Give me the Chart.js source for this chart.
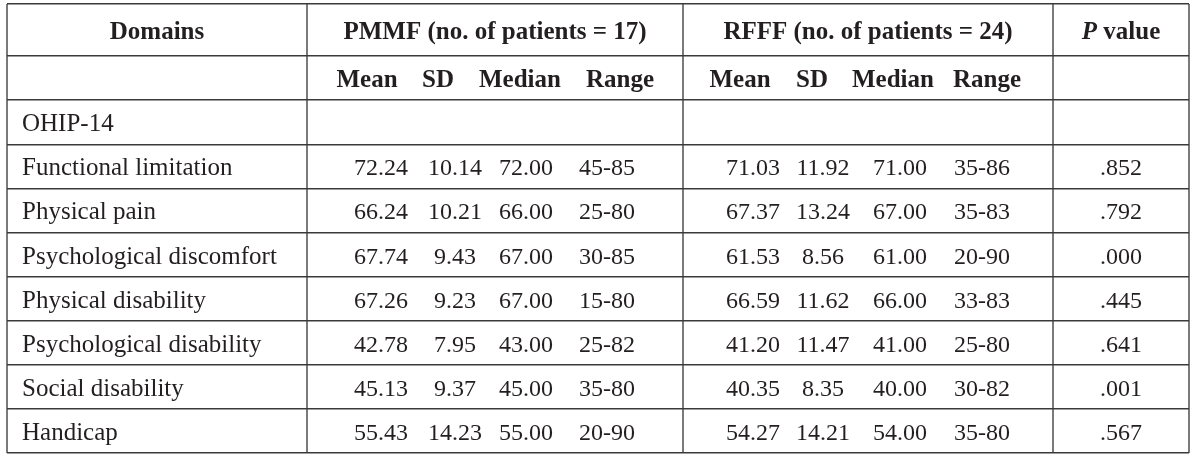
<!DOCTYPE html>
<html>
<head>
<meta charset="utf-8">
<script src="https://cdn.jsdelivr.net/npm/chart.js@4.4.1/dist/chart.umd.min.js"></script>
<style>
  html, body { margin: 0; padding: 0; background: #fff; }
  #wrap { width: 1200px; height: 463px; }
</style>
</head>
<body>
<div id="wrap"><canvas id="tabla"></canvas></div>
<script>
// datos de la tabla
const dominios = ["Functional limitation", "Physical pain", "Psychological discomfort",
  "Physical disability", "Psychological disability", "Social disability", "Handicap"];
const pmmfMedia = [72.24, 66.24, 67.74, 67.26, 42.78, 45.13, 55.43];
const pmmfDE = [10.14, 10.21, 9.43, 9.23, 7.95, 9.37, 14.23];
const pmmfMediana = [72.0, 66.0, 67.0, 67.0, 43.0, 45.0, 55.0];
const pmmfRango = ["45-85", "25-80", "30-85", "15-80", "25-82", "35-80", "20-90"];
const rfffMedia = [71.03, 67.37, 61.53, 66.59, 41.2, 40.35, 54.27];
const rfffDE = [11.92, 13.24, 8.56, 11.62, 11.47, 8.35, 14.21];
const rfffMediana = [71.0, 67.0, 61.0, 66.0, 41.0, 40.0, 54.0];
const rfffRango = ["35-86", "35-83", "20-90", "33-83", "25-80", "30-82", "35-80"];
const valoresP = [".852", ".792", ".000", ".445", ".641", ".001", ".567"];

const encabezados = ["Domains", "PMMF (no. of patients = 17)", "RFFF (no. of patients = 24)", "P value"];
const subEncabezados = ["Mean", "SD", "Median", "Range"];
const grupo = "OHIP-14";

// disposicion (unidades de la tabla)
const bordesCol = [7, 307, 683, 1053, 1189];
const centrosPMMF = [381, 455, 526, 607];
const centrosRFFF = [753, 823, 900, 982];
const centrosSubPMMF = [367, 438, 520, 620];
const centrosSubRFFF = [740, 812, 893, 987];
const altoEncabezado = 1.18;
const nFilas = 2 + dominios.length; // subencabezado, OHIP-14 y dominios
const bordesFila = [0];
for (let i = 0; i <= nFilas; i++) bordesFila.push(altoEncabezado + i);
const centroFila = (i) => (bordesFila[i] + bordesFila[i + 1]) / 2;

const fuenteEtiqueta = "25px 'Liberation Serif'";
const fuenteNumero = "24px 'Liberation Serif'";
const fuenteNegrita = "bold 25px 'Liberation Serif'";

// celdas como puntos de un scatter
function celda(x, y, texto, fuente, alinear) {
  return { x: x, y: y, texto: texto, fuente: fuente, alinear: alinear || "center" };
}

const celdas = [];
celdas.push(celda((bordesCol[0] + bordesCol[1]) / 2, centroFila(0), encabezados[0], fuenteNegrita));
celdas.push(celda((bordesCol[1] + bordesCol[2]) / 2, centroFila(0), encabezados[1], fuenteNegrita));
celdas.push(celda((bordesCol[2] + bordesCol[3]) / 2, centroFila(0), encabezados[2], fuenteNegrita));
celdas.push(celda((bordesCol[3] + bordesCol[4]) / 2, centroFila(0), encabezados[3], fuenteNegrita, "pvalor"));
subEncabezados.forEach((s, j) => {
  celdas.push(celda(centrosSubPMMF[j], centroFila(1), s, fuenteNegrita));
  celdas.push(celda(centrosSubRFFF[j], centroFila(1), s, fuenteNegrita));
});
celdas.push(celda(22, centroFila(2), grupo, fuenteEtiqueta, "left"));
dominios.forEach((d, i) => {
  const f = centroFila(i + 3);
  celdas.push(celda(22, f, d, fuenteEtiqueta, "left"));
  celdas.push(celda(centrosPMMF[0], f, pmmfMedia[i].toFixed(2), fuenteNumero));
  celdas.push(celda(centrosPMMF[1], f, pmmfDE[i].toFixed(2), fuenteNumero));
  celdas.push(celda(centrosPMMF[2], f, pmmfMediana[i].toFixed(2), fuenteNumero));
  celdas.push(celda(centrosPMMF[3], f, pmmfRango[i], fuenteNumero));
  celdas.push(celda(centrosRFFF[0], f, rfffMedia[i].toFixed(2), fuenteNumero));
  celdas.push(celda(centrosRFFF[1], f, rfffDE[i].toFixed(2), fuenteNumero));
  celdas.push(celda(centrosRFFF[2], f, rfffMediana[i].toFixed(2), fuenteNumero));
  celdas.push(celda(centrosRFFF[3], f, rfffRango[i], fuenteNumero));
  celdas.push(celda((bordesCol[3] + bordesCol[4]) / 2, f, valoresP[i], fuenteNumero));
});

const textoCeldas = {
  id: "textoCeldas",
  afterDatasetsDraw(chart) {
    const ctx = chart.ctx;
    const meta = chart.getDatasetMeta(0);
    ctx.save();
    ctx.fillStyle = "#231f20";
    ctx.textBaseline = "alphabetic";
    meta.data.forEach((pt, i) => {
      const c = chart.data.datasets[0].data[i];
      const base = pt.y + 9; // linea base un poco bajo el centro
      if (c.alinear === "pvalor") {
        ctx.font = "italic " + c.fuente;
        const w1 = ctx.measureText("P").width;
        ctx.font = c.fuente;
        const w2 = ctx.measureText(" value").width;
        const x0 = pt.x - (w1 + w2) / 2;
        ctx.textAlign = "left";
        ctx.font = "italic " + c.fuente;
        ctx.fillText("P", x0, base);
        ctx.font = c.fuente;
        ctx.fillText(" value", x0 + w1, base);
      } else {
        ctx.font = c.fuente;
        ctx.textAlign = c.alinear;
        ctx.fillText(c.texto, pt.x, base);
      }
    });
    ctx.restore();
  }
};

new Chart(document.getElementById("tabla"), {
  type: "scatter",
  data: {
    datasets: [{
      data: celdas,
      pointRadius: 0,
      pointHoverRadius: 0
    }]
  },
  options: {
    responsive: true,
    maintainAspectRatio: false,
    animation: false,
    events: [],
    layout: { padding: { left: 7, right: 11, top: 4, bottom: 10 } },
    plugins: { legend: { display: false }, tooltip: { enabled: false } },
    scales: {
      x: {
        type: "linear",
        min: bordesCol[0],
        max: bordesCol[bordesCol.length - 1],
        afterBuildTicks: (s) => { s.ticks = bordesCol.map((v) => ({ value: v })); },
        ticks: { display: false },
        grid: { color: "#7a7a7a", lineWidth: 2, drawTicks: false },
        border: { display: false }
      },
      y: {
        type: "linear",
        reverse: true,
        min: 0,
        max: bordesFila[bordesFila.length - 1],
        afterBuildTicks: (s) => { s.ticks = bordesFila.map((v) => ({ value: v })); },
        ticks: { display: false },
        grid: { color: "#3a3a3a", lineWidth: 1.5, drawTicks: false },
        border: { display: false }
      }
    }
  },
  plugins: [textoCeldas]
});
</script>
</body>
</html>
